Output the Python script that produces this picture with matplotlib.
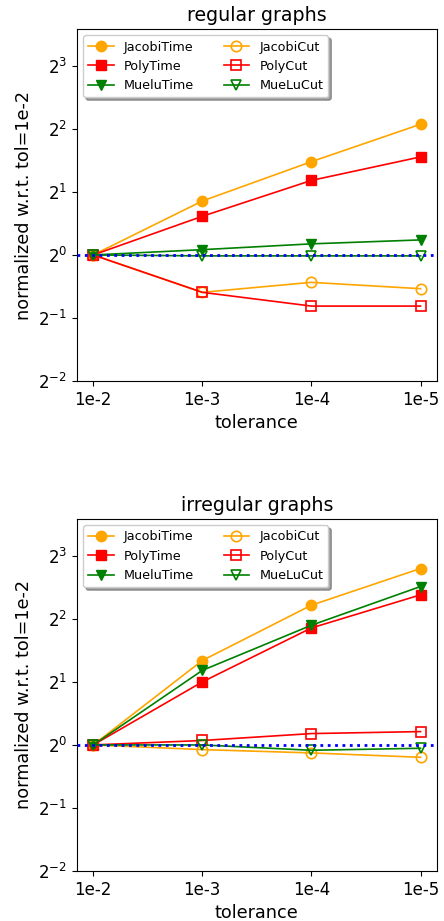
import matplotlib
matplotlib.use("Agg")
import matplotlib.pyplot as plt

tolerances = ["1e-2", "1e-3", "1e-4", "1e-5"]

reg_jacobi_time = [1.0, 1.81, 2.79, 4.21]
reg_poly_time = [1.0, 1.53, 2.27, 2.94]
reg_muelu_time = [1.0, 1.06, 1.13, 1.18]
reg_jacobi_cut = [1.0, 0.663, 0.74, 0.69]
reg_poly_cut = [1.0, 0.663, 0.57, 0.57]
reg_muelu_cut = [1.0, 0.99, 0.99, 0.99]

irr_jacobi_time = [1.0, 2.53, 4.65, 6.96]
irr_poly_time = [1.0, 2.0, 3.62, 5.21]
irr_muelu_time = [1.0, 2.27, 3.73, 5.71]
irr_jacobi_cut = [1.0, 0.95, 0.916, 0.873]
irr_poly_cut = [1.0, 1.05, 1.133, 1.158]
irr_muelu_cut = [1.0, 1.0, 0.943, 0.964]

fig = plt.figure(figsize=(4.44, 9.21), dpi=100)
ax1 = fig.add_axes([0.173, 0.5863, 0.811, 0.3822])
ax2 = fig.add_axes([0.173, 0.0543, 0.811, 0.3822])

def draw(ax, title, jt, pt, mt, jc, pc, mc):
    x = list(range(len(tolerances)))
    ms = 7.5
    lw = 1.2
    ax.plot(x, jt, color="orange", marker="o", ms=ms, lw=lw, label="JacobiTime")
    ax.plot(x, pt, color="red", marker="s", ms=ms, lw=lw, label="PolyTime")
    ax.plot(x, mt, color="green", marker="v", ms=ms, lw=lw, label="MueluTime")
    ax.plot(x, jc, color="orange", marker="o", ms=ms, lw=lw, mfc="none", mew=1.2, label="JacobiCut")
    ax.plot(x, pc, color="red", marker="s", ms=ms, lw=lw, mfc="none", mew=1.2, label="PolyCut")
    ax.plot(x, mc, color="green", marker="v", ms=ms, lw=lw, mfc="none", mew=1.2, label="MueLuCut")
    ax.axhline(1.0, color="blue", ls=":", lw=2, zorder=3)
    ax.set_yscale("log", base=2)
    ax.set_ylim(0.25, 12)
    ax.set_xlim(-0.15, 3.15)
    ax.set_xticks(x)
    ax.set_xticklabels(tolerances)
    ax.tick_params(labelsize=12)
    ax.set_xlabel("tolerance", fontsize=12.7)
    ax.set_ylabel("normalized w.r.t. tol=1e-2", fontsize=12.7)
    ax.set_title(title, fontsize=13.7)
    ax.legend(loc="upper left", ncol=2, shadow=True, fontsize=9.2, columnspacing=2.3)

draw(ax1, "regular graphs", reg_jacobi_time, reg_poly_time, reg_muelu_time,
     reg_jacobi_cut, reg_poly_cut, reg_muelu_cut)
draw(ax2, "irregular graphs", irr_jacobi_time, irr_poly_time, irr_muelu_time,
     irr_jacobi_cut, irr_poly_cut, irr_muelu_cut)

fig.savefig("out.png", dpi=100)
